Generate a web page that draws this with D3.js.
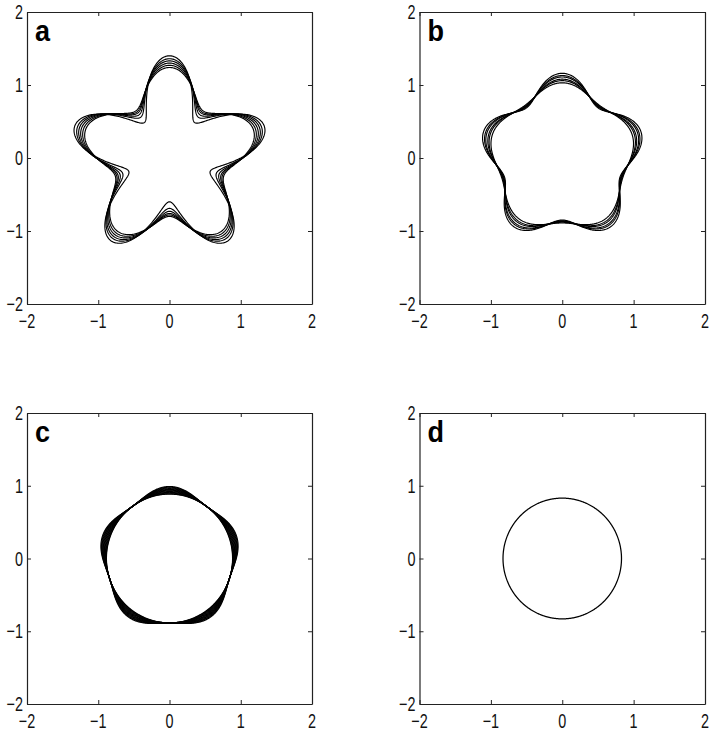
<!DOCTYPE html>
<html>
<head>
<meta charset="utf-8">
<script src="https://cdn.jsdelivr.net/npm/d3@7"></script>
<style>
  html, body { margin: 0; padding: 0; background: #fff; }
  svg { display: block; }
</style>
</head>
<body>
<svg id="chart" width="711" height="733"></svg>
<script>
// ---- data ----
const panelNames = ["a", "b", "c", "d"];
const tickValues = [-2, -1, 0, 1, 2];
const tickLabels = ["\u22122", "\u22121", "0", "1", "2"];
const lobeCount = 5;          // five-fold shapes
const lobeAngleDeg = 90;      // a lobe points straight up

// panel a: outer radius at lobes (peaks) and inner radius at dips (troughs), one per curve
const peaksA   = [1.40, 1.36, 1.33, 1.30, 1.27, 1.24];
const troughsA = [0.60, 0.69, 0.73, 0.76, 0.78, 0.80];
// panel b
const peaksB   = [1.16, 1.13, 1.11, 1.08, 1.06, 1.03];
const troughsB = [0.85, 0.86, 0.87, 0.87, 0.88, 0.89];
// panel c
const peaksC   = [0.99, 0.98, 0.97, 0.96, 0.95, 0.94, 0.93, 0.92, 0.91, 0.90, 0.89, 0.885];
const troughsC = [0.885, 0.885, 0.885, 0.885, 0.885, 0.885, 0.885, 0.885, 0.885, 0.885, 0.885, 0.885];
// panel d
const peaksD   = [0.83];
const troughsD = [0.83];

const curveSets = [
  {peaks: peaksA, troughs: troughsA},
  {peaks: peaksB, troughs: troughsB},
  {peaks: peaksC, troughs: troughsC},
  {peaks: peaksD, troughs: troughsD}
];

// ---- layout ----
const boxes = [
  {left: 27,    right: 312, top: 12,  bottom: 304},
  {left: 419.5, right: 705, top: 12,  bottom: 304},
  {left: 27,    right: 312, top: 413, bottom: 704},
  {left: 419.5, right: 705, top: 413, bottom: 704}
];

const svg = d3.select("#chart");
const font = "'Liberation Sans', Arial, Helvetica, sans-serif";

function curvePoints(peak, trough) {
  const mean = (peak + trough) / 2, amp = (peak - trough) / 2;
  const phase = lobeAngleDeg * Math.PI / 180;
  return d3.range(0, 721).map(i => {
    const t = i / 720 * 2 * Math.PI;
    const r = mean + amp * Math.cos(lobeCount * (t - phase));
    return [r * Math.cos(t), r * Math.sin(t)];
  });
}

panelNames.forEach((name, pi) => {
  const b = boxes[pi];
  const x = d3.scaleLinear().domain([-2, 2]).range([b.left, b.right]);
  const y = d3.scaleLinear().domain([-2, 2]).range([b.bottom, b.top]);
  const g = svg.append("g");

  // curves
  const line = d3.line().x(d => x(d[0])).y(d => y(d[1])).curve(d3.curveLinear);
  const cs = curveSets[pi];
  cs.peaks.forEach((p, i) => {
    g.append("path")
      .attr("d", line(curvePoints(p, cs.troughs[i])))
      .attr("fill", "none")
      .attr("stroke", "#000")
      .attr("stroke-width", pi === 3 ? 1.25 : 1.15);
  });

  // axes with inward ticks on all four sides
  const tk = 4;
  const axB = d3.axisBottom(x).tickValues(tickValues).tickFormat("").tickSizeInner(-tk).tickSizeOuter(0);
  const axT = d3.axisTop(x).tickValues(tickValues).tickFormat("").tickSizeInner(-tk).tickSizeOuter(0);
  const axL = d3.axisLeft(y).tickValues(tickValues).tickFormat("").tickSizeInner(-tk).tickSizeOuter(0);
  const axR = d3.axisRight(y).tickValues(tickValues).tickFormat("").tickSizeInner(-tk).tickSizeOuter(0);
  [[axB, `translate(0,${b.bottom})`], [axT, `translate(0,${b.top})`],
   [axL, `translate(${b.left},0)`], [axR, `translate(${b.right},0)`]].forEach(([ax, tr]) => {
    const a = g.append("g").attr("transform", tr).call(ax);
    a.selectAll("path.domain").attr("stroke", "#222").attr("stroke-width", 1.2);
    a.selectAll(".tick line").attr("stroke", "#222").attr("stroke-width", 1);
  });

  // tick labels (condensed, like the reference)
  tickValues.forEach((v, i) => {
    g.append("text")
      .attr("transform", `translate(${x(v)},${b.bottom + 24}) scale(0.72,1)`)
      .attr("text-anchor", "middle")
      .attr("font-family", font).attr("font-size", 20)
      .attr("fill", "#111")
      .text(tickLabels[i]);
    g.append("text")
      .attr("transform", `translate(${b.left - 4},${y(v)}) scale(0.72,1)`)
      .attr("text-anchor", "end")
      .attr("dy", "0.36em")
      .attr("font-family", font).attr("font-size", 20)
      .attr("fill", "#111")
      .text(tickLabels[i]);
  });

  // panel letter
  g.append("text")
    .attr("transform", `translate(${b.left + 8},${b.top + 29}) scale(0.9,1)`)
    .attr("font-family", font).attr("font-size", 30).attr("font-weight", "bold")
    .attr("fill", "#000")
    .text(name);
});
</script>
</body>
</html>
